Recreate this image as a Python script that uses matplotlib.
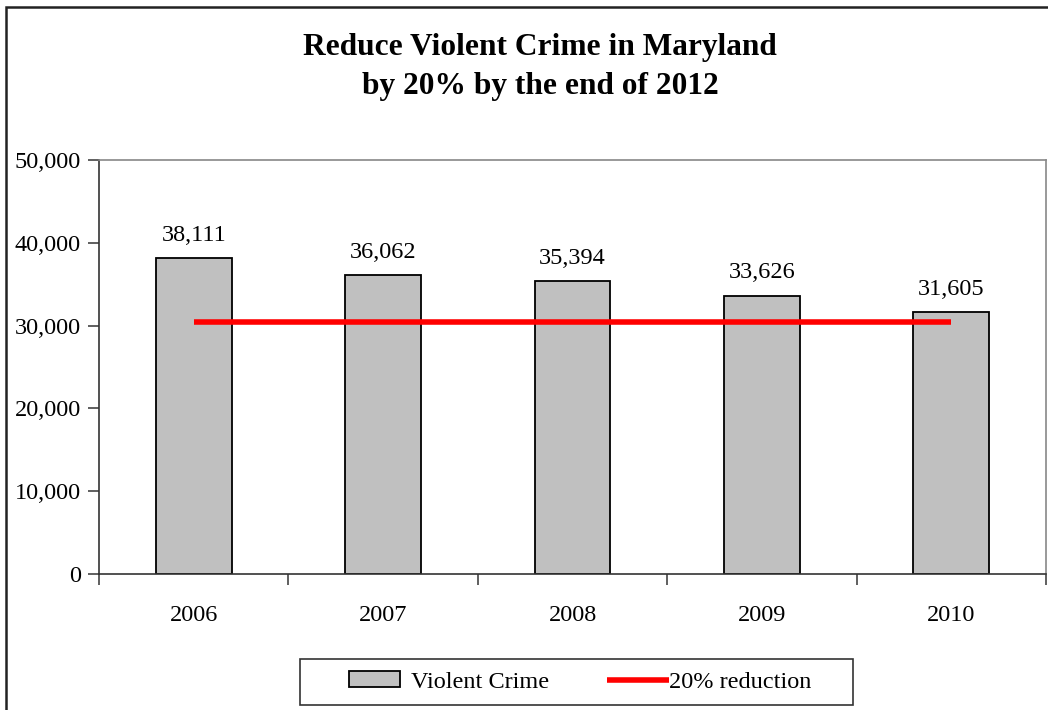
import matplotlib
matplotlib.use("Agg")
import numpy as np
import matplotlib.pyplot as plt
from matplotlib.patches import Rectangle
from matplotlib.ticker import FuncFormatter, FixedLocator
from matplotlib.legend_handler import HandlerLine2D

years = ["2006", "2007", "2008", "2009", "2010"]
violent_crime = [38111, 36062, 35394, 33626, 31605]
target = [30489, 30489, 30489, 30489, 30489]

plt.rcParams["font.family"] = ["Liberation Serif", "DejaVu Serif"]

W, H = 1048, 710
fig = plt.figure(figsize=(W / 100, H / 100), dpi=100)

# Chart-area border (left and top edges)
fig.patches.append(Rectangle((6 / W, -0.1), 1.2, (H - 6.5) / H + 0.1,
                             transform=fig.transFigure, fill=False,
                             edgecolor="#222222", linewidth=1.8))

ax = fig.add_axes([99 / W, 1 - 574 / H, (1046 - 99) / W, (574 - 160) / H])

x = list(range(len(years)))
bar_cont = ax.bar(x, violent_crime, width=0.4, color="#C0C0C0", edgecolor="black",
                  linewidth=1.3, label="Violent Crime", zorder=2)
line, = ax.plot(x, target, color="#FF0000", linewidth=4, label="20% reduction", zorder=3,
                solid_capstyle="butt")

for xi, v in zip(x, violent_crime):
    ax.annotate(f"{v:,}", (xi, v), xytext=(0, 12.5), textcoords="offset points",
                ha="center", va="baseline", fontsize=17.5)

ax.set_xlim(-0.5, 4.5)
ax.set_ylim(0, 50000)
ax.set_yticks(range(0, 50001, 10000))
ax.yaxis.set_major_formatter(FuncFormatter(lambda v, p: f"{int(v):,}"))
ax.xaxis.set_major_locator(FixedLocator([i - 0.5 for i in range(6)]))
ax.xaxis.set_major_formatter(FuncFormatter(lambda v, p: ""))
ax.set_xticks(x, minor=True)
ax.set_xticklabels(years, minor=True, fontsize=17.5)
ax.tick_params(axis="x", which="minor", length=0, pad=22)
ax.tick_params(axis="x", which="major", length=8, width=1.2, direction="out", color="#444444")
ax.tick_params(axis="y", length=8, width=1.2, direction="out", labelsize=17.5, pad=5,
               color="#444444")

for s in ("left", "bottom"):
    ax.spines[s].set_color("#333333")
    ax.spines[s].set_linewidth(1.2)
for s in ("top", "right"):
    ax.spines[s].set_color("#888888")
    ax.spines[s].set_linewidth(1.2)

fig.text(540 / W, 1 - 55 / H, "Reduce Violent Crime in Maryland",
         ha="center", va="baseline", fontsize=22.6, fontweight="bold")
fig.text(540 / W, 1 - 94 / H, "by 20% by the end of 2012",
         ha="center", va="baseline", fontsize=22.6, fontweight="bold")


class LongLineHandler(HandlerLine2D):
    """Line legend handle that runs up to its label."""

    def create_artists(self, legend, orig_handle, xdescent, ydescent,
                       width, height, fontsize, trans):
        artists = super().create_artists(legend, orig_handle, xdescent, ydescent,
                                         width, height, fontsize, trans)
        for a in artists:
            xd = np.asarray(a.get_xdata(), dtype=float)
            if len(xd) >= 2:
                a.set_xdata(np.linspace(xd[0], xd[-1] + 0.45 * fontsize, len(xd)))
        return artists


# Legend entries, with the box drawn as a separate frame
leg = fig.legend([bar_cont, line], ["Violent Crime", "20% reduction"],
                 loc="center", bbox_to_anchor=(580 / W, 1 - 682 / H),
                 ncol=2, frameon=False, fontsize=17.5,
                 handlelength=2.1, handleheight=0.6, columnspacing=2.4,
                 handletextpad=0.45, borderpad=0.4, borderaxespad=0,
                 handler_map={line: LongLineHandler()})
fig.patches.append(Rectangle((300 / W, 1 - 705 / H), (853 - 300) / W, (705 - 659) / H,
                             transform=fig.transFigure, fill=False,
                             edgecolor="#333333", linewidth=1.2))

fig.savefig("out.png", dpi=100)
